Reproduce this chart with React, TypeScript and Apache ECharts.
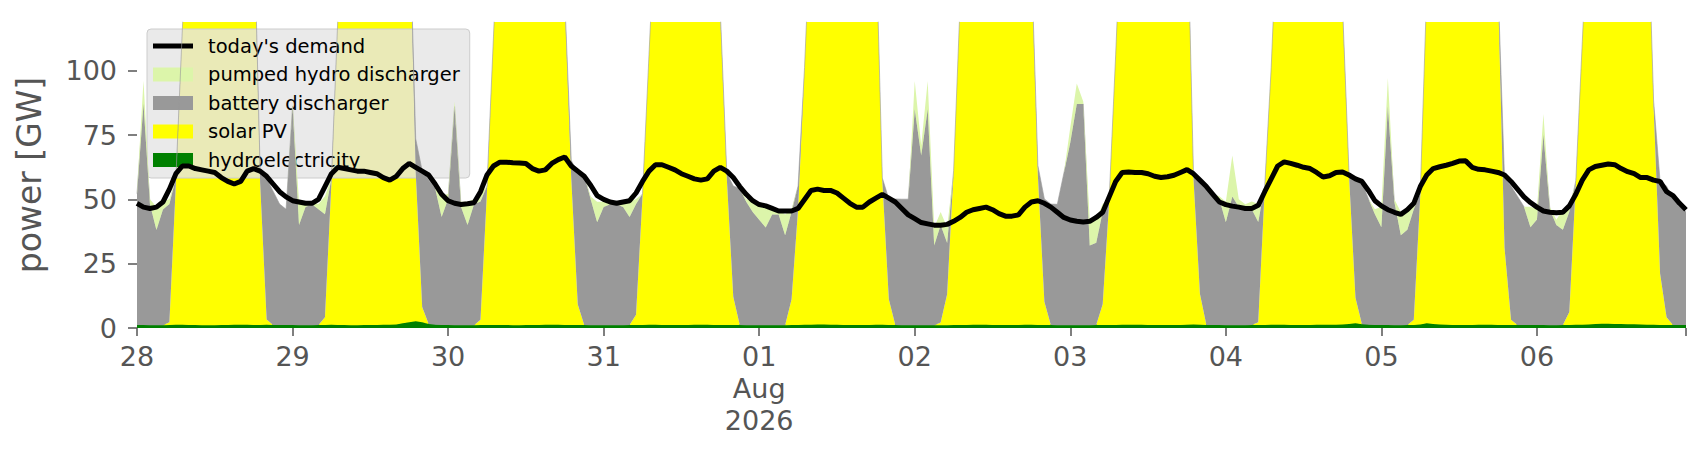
import * as echarts from "echarts";
import { useEffect, useRef } from "react";

// hourly data, 28 Jul 00:00 .. 06 Aug 23:00 (one row per day)
const days = ["07-28", "07-29", "07-30", "07-31", "08-01", "08-02", "08-03", "08-04", "08-05", "08-06"];
const tickLabels = ["28", "29", "30", "31", "01\nAug\n2026", "02", "03", "04", "05", "06"];
const hours = ["00", "01", "02", "03", "04", "05", "06", "07", "08", "09", "10", "11",
  "12", "13", "14", "15", "16", "17", "18", "19", "20", "21", "22", "23"];

const hydro = [
  1.2, 1.2, 1.1, 1.1, 1.1, 1.2, 1.3, 1.3, 1.2, 1.2, 1.1, 1.1, 1.1, 1.2, 1.2, 1.3, 1.3, 1.3, 1.2, 1.2, 1.3, 1.2, 1.2, 1.2,
  1.2, 1.1, 1.1, 1.1, 1.2, 1.2, 1.3, 1.2, 1.2, 1.1, 1.1, 1.2, 1.2, 1.2, 1.3, 1.3, 1.4, 1.8, 2.2, 2.6, 2.2, 1.6, 1.3, 1.2,
  1.2, 1.1, 1.1, 1.1, 1.1, 1.2, 1.2, 1.2, 1.2, 1.2, 1.1, 1.1, 1.2, 1.2, 1.2, 1.3, 1.3, 1.3, 1.2, 1.2, 1.2, 1.2, 1.1, 1.1,
  1.1, 1.1, 1.1, 1.1, 1.2, 1.2, 1.2, 1.3, 1.3, 1.2, 1.2, 1.2, 1.2, 1.2, 1.3, 1.3, 1.3, 1.2, 1.2, 1.2, 1.2, 1.2, 1.1, 1.1,
  1.1, 1.1, 1.1, 1.1, 1.1, 1.2, 1.2, 1.3, 1.3, 1.4, 1.4, 1.3, 1.3, 1.2, 1.2, 1.2, 1.2, 1.2, 1.3, 1.3, 1.2, 1.2, 1.1, 1.1,
  1.1, 1.1, 1.1, 1.1, 1.1, 1.1, 1.2, 1.2, 1.2, 1.3, 1.3, 1.3, 1.2, 1.2, 1.2, 1.2, 1.2, 1.3, 1.3, 1.2, 1.2, 1.2, 1.1, 1.1,
  1.1, 1.1, 1.1, 1.1, 1.2, 1.2, 1.2, 1.2, 1.3, 1.3, 1.3, 1.3, 1.2, 1.2, 1.2, 1.2, 1.2, 1.2, 1.3, 1.4, 1.3, 1.2, 1.2, 1.2,
  1.1, 1.1, 1.1, 1.1, 1.2, 1.2, 1.2, 1.3, 1.3, 1.3, 1.2, 1.2, 1.2, 1.2, 1.3, 1.3, 1.3, 1.3, 1.4, 1.6, 1.8, 1.5, 1.3, 1.2,
  1.2, 1.2, 1.1, 1.1, 1.2, 1.2, 1.4, 1.8, 1.6, 1.4, 1.3, 1.2, 1.2, 1.2, 1.2, 1.3, 1.3, 1.3, 1.2, 1.2, 1.2, 1.2, 1.2, 1.2,
  1.2, 1.2, 1.1, 1.1, 1.2, 1.2, 1.3, 1.3, 1.4, 1.6, 1.7, 1.7, 1.6, 1.6, 1.5, 1.5, 1.4, 1.3, 1.3, 1.2, 1.2, 1.2, 1.2, 1.2,
];

const solar = [
  0, 0, 0, 0, 0, 1, 55, 115, 170, 190, 200, 205, 205, 200, 190, 180, 172, 165, 160, 55, 2, 0, 0, 0,
  0, 0, 0, 0, 0, 3, 55, 120, 170, 192, 203, 208, 207, 200, 188, 178, 170, 165, 160, 58, 6, 0, 0, 0,
  0, 0, 0, 0, 0, 2, 52, 112, 170, 195, 205, 210, 210, 205, 195, 180, 160, 140, 125, 57, 8, 0, 0, 0,
  0, 0, 0, 0, 0, 4, 50, 105, 160, 185, 198, 204, 205, 200, 190, 185, 178, 170, 120, 57, 11, 0, 0, 0,
  0, 0, 0, 0, 0, 10, 45, 100, 160, 185, 195, 200, 200, 195, 185, 175, 165, 158, 150, 56, 10, 0, 0, 0,
  0, 0, 0, 0, 1, 12, 60, 125, 175, 195, 205, 210, 210, 205, 195, 182, 168, 155, 140, 58, 9, 0, 0, 0,
  0, 0, 0, 0, 0, 8, 48, 105, 165, 190, 200, 206, 206, 200, 192, 182, 172, 168, 165, 57, 12, 0, 0, 0,
  0, 0, 0, 0, 0, 1, 53, 100, 160, 185, 198, 204, 205, 200, 190, 178, 160, 140, 122, 58, 10, 0, 0, 0,
  0, 0, 0, 0, 0, 2, 50, 130, 180, 200, 210, 214, 212, 205, 195, 185, 175, 170, 130, 30, 2, 0, 0, 0,
  0, 0, 0, 0, 0, 5, 55, 110, 165, 190, 202, 207, 207, 200, 190, 180, 175, 170, 85, 20, 3, 0, 0, 0,
];

const battery = [
  51, 86, 47, 37, 45, 46, 2, 0, 0, 0, 0, 0, 0, 0, 0, 0, 0, 0, 2, 5, 55, 52, 47, 45,
  85, 39, 46, 47, 45, 40, 2, 0, 0, 0, 0, 0, 0, 0, 0, 0, 0, 0, 2, 13, 53, 56, 53, 42,
  49, 85, 46, 39, 47, 46, 2, 0, 0, 0, 0, 0, 0, 0, 0, 0, 0, 0, 2, 7, 51, 58, 49, 40,
  46, 47, 47, 46, 42, 43, 1, 0, 0, 0, 0, 0, 0, 0, 0, 0, 0, 0, 2, 2, 43, 53, 48, 44,
  41, 38, 43, 43, 35, 34, 9, 0, 0, 0, 0, 0, 0, 0, 0, 0, 0, 0, 2, 1, 39, 49, 49, 49,
  84, 66, 84, 31, 38, 20, 0, 0, 0, 0, 0, 0, 0, 0, 0, 0, 0, 0, 2, 4, 40, 47, 47, 59,
  71, 86, 86, 31, 32, 36, 1, 0, 0, 0, 0, 0, 0, 0, 0, 0, 0, 0, 2, 2, 44, 54, 51, 49,
  40, 50, 46, 46, 45, 39, 1, 0, 0, 0, 0, 0, 0, 0, 0, 0, 0, 0, 2, 1, 46, 55, 49, 43,
  38, 85, 48, 35, 37, 43, 1, 0, 0, 0, 0, 0, 0, 0, 0, 0, 0, 0, 2, 27, 52, 50, 46, 38,
  41, 74, 45, 39, 37, 39, 1, 0, 0, 0, 0, 0, 0, 0, 0, 0, 0, 0, 2, 36, 51, 49, 46, 44,
];

const pumped = [
  1, 9, 2, 9, 3, 2, 0, 0, 0, 0, 0, 0, 0, 0, 0, 0, 0, 0, 0, 0, 0, 0, 0, 0,
  1, 9, 2, 1, 2, 7, 0, 0, 0, 0, 0, 0, 0, 0, 0, 0, 0, 0, 0, 0, 0, 0, 0, 8,
  2, 2, 2, 9, 2, 3, 0, 0, 0, 0, 0, 0, 0, 0, 0, 0, 0, 0, 0, 0, 0, 0, 1, 8,
  2, 1, 1, 1, 6, 2, 0, 0, 0, 0, 0, 0, 0, 0, 0, 0, 0, 0, 0, 0, 0, 0, 1, 5,
  6, 8, 2, 2, 8, 1, 0, 0, 0, 0, 0, 0, 0, 0, 0, 0, 0, 0, 0, 0, 0, 0, 0, 0,
  11, 4, 11, 7, 5, 6, 0, 0, 0, 0, 0, 0, 0, 0, 0, 0, 0, 0, 0, 0, 0, 0, 0, 0,
  6, 8, 1, 10, 9, 3, 0, 0, 0, 0, 0, 0, 0, 0, 0, 0, 0, 0, 0, 0, 0, 0, 0, 1,
  8, 16, 3, 1, 3, 7, 0, 0, 0, 0, 0, 0, 0, 0, 0, 0, 0, 0, 0, 0, 0, 0, 0, 2,
  8, 11, 1, 9, 8, 3, 0, 0, 0, 0, 0, 0, 0, 0, 0, 0, 0, 0, 0, 0, 0, 0, 0, 8,
  4, 8, 1, 2, 8, 2, 0, 0, 0, 0, 0, 0, 0, 0, 0, 0, 0, 0, 0, 0, 0, 0, 0, 0,
];

const demand = [
  48.5, 47, 46.5, 47, 49, 54, 60, 63, 63, 62, 61.5, 61, 60.5, 58.5, 57, 56, 57, 61, 62, 61, 59, 56, 53, 51,
  49.5, 49, 48.5, 48.5, 50, 55, 60, 62.5, 62, 61.5, 61, 61, 60.5, 60, 58.5, 57.5, 59, 62, 64, 62.5, 61, 59.5, 56, 52,
  49.5, 48.5, 48, 48.3, 48.7, 53, 59.5, 63, 64.5, 64.5, 64.3, 64.2, 64, 62, 61, 61.5, 64, 65.5, 66.5, 63, 61, 59, 55.5, 51.5,
  50, 49, 48.5, 49, 49.5, 52.5, 57, 61, 63.5, 63.5, 62.5, 61.5, 60, 59, 58, 57.5, 58, 61, 62.5, 61, 58.5, 55, 52, 49.5,
  48, 47.5, 46.5, 45.5, 45.5, 45.5, 46.5, 50, 53.5, 54, 53.5, 53.5, 52.5, 50.5, 48.5, 47, 47, 49, 50.5, 52, 50.5, 49, 46.5, 44,
  42.5, 41, 40.5, 40, 40, 40.3, 41.5, 43, 45, 46, 46.5, 47, 46, 44.5, 43.5, 43.5, 44, 47, 49, 49.5, 48.5, 47, 45, 43,
  42, 41.5, 41.2, 41.5, 43, 45, 51, 57, 60.5, 60.7, 60.5, 60.5, 60, 59, 58.5, 58.8, 59.4, 60.5, 61.6, 60, 57.5, 55, 52, 49,
  48, 47.4, 47, 46.5, 46.5, 47.7, 53, 58, 63, 64.6, 64, 63.3, 62.5, 62, 60.5, 58.7, 59.2, 60.5, 60.7, 59.5, 58, 57, 53.5, 49.5,
  47.5, 46, 45, 44.2, 46, 48.5, 55, 59.5, 62, 62.7, 63.3, 64, 64.9, 65, 62.5, 61.7, 61.5, 61, 60.5, 59.5, 57, 54, 51, 48.8,
  47, 45.5, 45, 44.8, 45, 47.5, 52, 57.5, 61.5, 62.8, 63.3, 63.8, 63.5, 62, 60.8, 60, 58.5, 58.5, 57.5, 57, 53, 51.5, 48.5, 46,
];

const categories = days.flatMap((d) => hours.map((h) => `2026-${d} ${h}:00`));

const FONT = "DejaVu Sans";
const GREY = "#555555";

function area(name: string, data: number[], color: string, z: number, edge = 0) {
  return {
    name,
    type: "line",
    stack: "power",
    data,
    symbol: "none",
    z,
    color,
    lineStyle: { width: edge, color },
    areaStyle: { color, opacity: 1 },
  };
}

function getOption() {
  return {
    animation: false,
    backgroundColor: "#ffffff",
    textStyle: { fontFamily: FONT },
    grid: { left: 137, right: 20, top: 22, bottom: 132 },
    legend: {
      orient: "vertical",
      left: 147,
      top: 29,
      backgroundColor: "rgba(229,229,229,0.8)",
      borderColor: "#cccccc",
      borderWidth: 1,
      borderRadius: 4,
      padding: [7, 10, 8, 6],
      itemWidth: 40,
      itemHeight: 14,
      itemGap: 8.5,
      itemStyle: { borderWidth: 0 },
      textStyle: { fontSize: 19.5, color: "#000000", fontFamily: FONT, lineHeight: 20, padding: [0, 0, 0, 10] },
      data: [
        { name: "today's demand", icon: "path://M0,0H40V5H0Z", itemStyle: { color: "#000000" } },
        { name: "pumped hydro discharger", icon: "rect" },
        { name: "battery discharger", icon: "rect" },
        { name: "solar PV", icon: "rect" },
        { name: "hydroelectricity", icon: "rect" },
      ],
    },
    xAxis: {
      type: "category",
      boundaryGap: false,
      data: categories,
      axisLine: { show: false },
      splitLine: { show: false },
      axisTick: {
        show: true,
        interval: (i: number) => i % 24 === 0 || i === categories.length - 1,
        length: 8,
        lineStyle: { color: GREY, width: 1.5 },
      },
      axisLabel: {
        interval: (i: number) => i % 24 === 0,
        formatter: (_v: string, i: number) => tickLabels[i / 24] ?? "",
        fontSize: 27,
        lineHeight: 32,
        color: GREY,
        margin: 12,
        fontFamily: FONT,
      },
    },
    yAxis: {
      type: "value",
      min: 0,
      max: 119,
      interval: 25,
      name: "power [GW]",
      nameLocation: "middle",
      nameGap: 91,
      nameTextStyle: { fontSize: 33, color: GREY, fontFamily: FONT },
      axisLine: { show: false },
      splitLine: { show: false },
      axisTick: { show: true, length: 9, lineStyle: { color: GREY, width: 1.5 }, customValues: [0, 25, 50, 75, 100] },
      axisLabel: { fontSize: 27, color: GREY, margin: 20, fontFamily: FONT, customValues: [0, 25, 50, 75, 100] },
    },
    series: [
      area("hydroelectricity", hydro, "#008000", 2, 1.5),
      area("solar PV", solar, "#ffff00", 3),
      area("battery discharger", battery, "#999999", 4, 0.6),
      area("pumped hydro discharger", pumped, "#dcf5aa", 5),
      {
        name: "today's demand",
        type: "line",
        data: demand,
        symbol: "none",
        z: 10,
        color: "#000000",
        lineStyle: { color: "#000000", width: 5 },
      },
    ],
  };
}

export default function App() {
  const chartRef = useRef<HTMLDivElement>(null);

  useEffect(() => {
    if (!chartRef.current) return;
    const chart = echarts.init(chartRef.current, undefined, { renderer: "svg" });
    chart.setOption(getOption() as any);
    return () => {
      chart.dispose();
    };
  }, []);

  return (
    <div
      ref={chartRef}
      style={{ position: "absolute", left: 0, top: 0, width: 1706, height: 460 }}
    />
  );
}
